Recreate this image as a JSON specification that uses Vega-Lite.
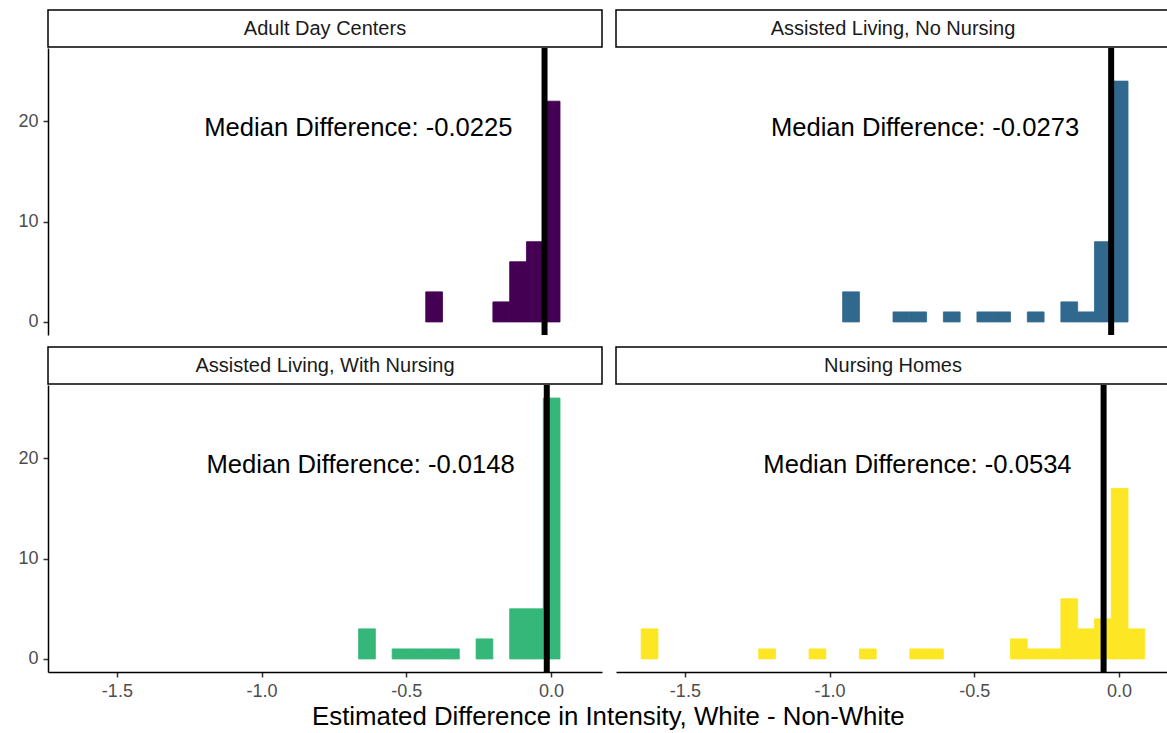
{
  "$schema": "https://vega.github.io/schema/vega-lite/v6.json",
  "padding": {"left": 17, "top": 9, "right": 0, "bottom": 0},
  "spacing": 8,
  "datasets": {
    "bins": [
      {"panel": "Adult Day Centers", "start": -0.433, "end": -0.375, "count": 3},
      {"panel": "Adult Day Centers", "start": -0.201, "end": -0.143, "count": 2},
      {"panel": "Adult Day Centers", "start": -0.143, "end": -0.085, "count": 6},
      {"panel": "Adult Day Centers", "start": -0.085, "end": -0.027, "count": 8},
      {"panel": "Adult Day Centers", "start": -0.027, "end": 0.031, "count": 22},
      {"panel": "Assisted Living, No Nursing", "start": -0.955, "end": -0.897, "count": 3},
      {"panel": "Assisted Living, No Nursing", "start": -0.781, "end": -0.723, "count": 1},
      {"panel": "Assisted Living, No Nursing", "start": -0.723, "end": -0.665, "count": 1},
      {"panel": "Assisted Living, No Nursing", "start": -0.607, "end": -0.549, "count": 1},
      {"panel": "Assisted Living, No Nursing", "start": -0.491, "end": -0.433, "count": 1},
      {"panel": "Assisted Living, No Nursing", "start": -0.433, "end": -0.375, "count": 1},
      {"panel": "Assisted Living, No Nursing", "start": -0.317, "end": -0.259, "count": 1},
      {"panel": "Assisted Living, No Nursing", "start": -0.201, "end": -0.143, "count": 2},
      {"panel": "Assisted Living, No Nursing", "start": -0.143, "end": -0.085, "count": 1},
      {"panel": "Assisted Living, No Nursing", "start": -0.085, "end": -0.027, "count": 8},
      {"panel": "Assisted Living, No Nursing", "start": -0.027, "end": 0.031, "count": 24},
      {"panel": "Assisted Living, With Nursing", "start": -0.665, "end": -0.607, "count": 3},
      {"panel": "Assisted Living, With Nursing", "start": -0.549, "end": -0.491, "count": 1},
      {"panel": "Assisted Living, With Nursing", "start": -0.491, "end": -0.433, "count": 1},
      {"panel": "Assisted Living, With Nursing", "start": -0.433, "end": -0.375, "count": 1},
      {"panel": "Assisted Living, With Nursing", "start": -0.375, "end": -0.317, "count": 1},
      {"panel": "Assisted Living, With Nursing", "start": -0.259, "end": -0.201, "count": 2},
      {"panel": "Assisted Living, With Nursing", "start": -0.143, "end": -0.085, "count": 5},
      {"panel": "Assisted Living, With Nursing", "start": -0.085, "end": -0.027, "count": 5},
      {"panel": "Assisted Living, With Nursing", "start": -0.027, "end": 0.031, "count": 26},
      {"panel": "Nursing Homes", "start": -1.651, "end": -1.593, "count": 3},
      {"panel": "Nursing Homes", "start": -1.245, "end": -1.187, "count": 1},
      {"panel": "Nursing Homes", "start": -1.071, "end": -1.013, "count": 1},
      {"panel": "Nursing Homes", "start": -0.897, "end": -0.839, "count": 1},
      {"panel": "Nursing Homes", "start": -0.723, "end": -0.665, "count": 1},
      {"panel": "Nursing Homes", "start": -0.665, "end": -0.607, "count": 1},
      {"panel": "Nursing Homes", "start": -0.375, "end": -0.317, "count": 2},
      {"panel": "Nursing Homes", "start": -0.317, "end": -0.259, "count": 1},
      {"panel": "Nursing Homes", "start": -0.259, "end": -0.201, "count": 1},
      {"panel": "Nursing Homes", "start": -0.201, "end": -0.143, "count": 6},
      {"panel": "Nursing Homes", "start": -0.143, "end": -0.085, "count": 3},
      {"panel": "Nursing Homes", "start": -0.085, "end": -0.027, "count": 4},
      {"panel": "Nursing Homes", "start": -0.027, "end": 0.031, "count": 17},
      {"panel": "Nursing Homes", "start": 0.031, "end": 0.089, "count": 3}
    ],
    "medians": [
      {"panel": "Adult Day Centers", "median": -0.0225, "label": "Median Difference: -0.0225"},
      {"panel": "Assisted Living, No Nursing", "median": -0.0273, "label": "Median Difference: -0.0273"},
      {"panel": "Assisted Living, With Nursing", "median": -0.0148, "label": "Median Difference: -0.0148"},
      {"panel": "Nursing Homes", "median": -0.0534, "label": "Median Difference: -0.0534"}
    ]
  },
  "vconcat": [
    {
      "spacing": 12,
      "hconcat": [
        {
          "spacing": 1,
          "bounds": "flush",
          "vconcat": [
            {
              "width": 554, "height": 37,
              "view": {"stroke": "black", "strokeWidth": 1.5},
              "data": {"values": [{"label": "Adult Day Centers"}]},
              "mark": {"type": "text", "fontSize": 20, "color": "#1A1A1A", "font": "Liberation Sans"},
              "encoding": {"text": {"field": "label"}}
            },
            {
              "width": 554, "height": 287,
              "layer": [
                {
                  "data": {"name": "bins"},
                  "transform": [{"filter": {"field": "panel", "equal": "Adult Day Centers"}}],
                  "mark": {"type": "bar", "color": "#440154", "stroke": "#440154", "strokeWidth": 0.8},
                  "encoding": {
                    "x": {"field": "start", "type": "quantitative", "scale": {"domain": [-1.738, 0.176], "nice": false, "zero": false}, "axis": null},
                    "x2": {"field": "end"},
                    "y": {"field": "count", "type": "quantitative", "scale": {"domain": [-1.3, 27.3], "nice": false, "zero": false}, "axis": {"values": [0, 10, 20], "format": "d", "title": null, "grid": false}},
                    "y2": {"datum": 0}
                  }
                },
                {
                  "data": {"name": "medians"},
                  "transform": [{"filter": {"field": "panel", "equal": "Adult Day Centers"}}],
                  "mark": {"type": "rule", "color": "black", "strokeWidth": 6},
                  "encoding": {"x": {"field": "median", "type": "quantitative", "axis": null}}
                },
                {
                  "data": {"name": "medians"},
                  "transform": [{"filter": {"field": "panel", "equal": "Adult Day Centers"}}],
                  "mark": {"type": "text", "align": "right", "baseline": "alphabetic", "dx": -32, "dy": 15, "fontSize": 25.6, "color": "black", "font": "Liberation Sans"},
                  "encoding": {
                    "x": {"field": "median", "type": "quantitative", "axis": null},
                    "y": {"datum": 20, "type": "quantitative", "axis": {"values": [0, 10, 20], "format": "d", "title": null, "grid": false}},
                    "text": {"field": "label"}
                  }
                }
              ]
            }
          ]
        },
        {
          "spacing": 1,
          "bounds": "flush",
          "vconcat": [
            {
              "width": 554, "height": 37,
              "view": {"stroke": "black", "strokeWidth": 1.5},
              "data": {"values": [{"label": "Assisted Living, No Nursing"}]},
              "mark": {"type": "text", "fontSize": 20, "color": "#1A1A1A", "font": "Liberation Sans"},
              "encoding": {"text": {"field": "label"}}
            },
            {
              "width": 554, "height": 287,
              "layer": [
                {
                  "data": {"name": "bins"},
                  "transform": [{"filter": {"field": "panel", "equal": "Assisted Living, No Nursing"}}],
                  "mark": {"type": "bar", "color": "#31688E", "stroke": "#31688E", "strokeWidth": 0.8},
                  "encoding": {
                    "x": {"field": "start", "type": "quantitative", "scale": {"domain": [-1.738, 0.176], "nice": false, "zero": false}, "axis": null},
                    "x2": {"field": "end"},
                    "y": {"field": "count", "type": "quantitative", "scale": {"domain": [-1.3, 27.3], "nice": false, "zero": false}, "axis": null},
                    "y2": {"datum": 0}
                  }
                },
                {
                  "data": {"name": "medians"},
                  "transform": [{"filter": {"field": "panel", "equal": "Assisted Living, No Nursing"}}],
                  "mark": {"type": "rule", "color": "black", "strokeWidth": 6},
                  "encoding": {"x": {"field": "median", "type": "quantitative", "axis": null}}
                },
                {
                  "data": {"name": "medians"},
                  "transform": [{"filter": {"field": "panel", "equal": "Assisted Living, No Nursing"}}],
                  "mark": {"type": "text", "align": "right", "baseline": "alphabetic", "dx": -32, "dy": 15, "fontSize": 25.6, "color": "black", "font": "Liberation Sans"},
                  "encoding": {
                    "x": {"field": "median", "type": "quantitative", "axis": null},
                    "y": {"datum": 20, "type": "quantitative", "axis": null},
                    "text": {"field": "label"}
                  }
                }
              ]
            }
          ]
        }
      ]
    },
    {
      "spacing": 12,
      "hconcat": [
        {
          "spacing": 1,
          "bounds": "flush",
          "vconcat": [
            {
              "width": 554, "height": 37,
              "view": {"stroke": "black", "strokeWidth": 1.5},
              "data": {"values": [{"label": "Assisted Living, With Nursing"}]},
              "mark": {"type": "text", "fontSize": 20, "color": "#1A1A1A", "font": "Liberation Sans"},
              "encoding": {"text": {"field": "label"}}
            },
            {
              "width": 554, "height": 287,
              "layer": [
                {
                  "data": {"name": "bins"},
                  "transform": [{"filter": {"field": "panel", "equal": "Assisted Living, With Nursing"}}],
                  "mark": {"type": "bar", "color": "#35B779", "stroke": "#35B779", "strokeWidth": 0.8},
                  "encoding": {
                    "x": {"field": "start", "type": "quantitative", "scale": {"domain": [-1.738, 0.176], "nice": false, "zero": false}, "axis": {"values": [-1.5, -1, -0.5, 0], "labelExpr": "replace(format(datum.value, '.1f'), '\u2212', '-')", "title": null, "grid": false, "labelFlush": false}},
                    "x2": {"field": "end"},
                    "y": {"field": "count", "type": "quantitative", "scale": {"domain": [-1.3, 27.3], "nice": false, "zero": false}, "axis": {"values": [0, 10, 20], "format": "d", "title": null, "grid": false}},
                    "y2": {"datum": 0}
                  }
                },
                {
                  "data": {"name": "medians"},
                  "transform": [{"filter": {"field": "panel", "equal": "Assisted Living, With Nursing"}}],
                  "mark": {"type": "rule", "color": "black", "strokeWidth": 6},
                  "encoding": {"x": {"field": "median", "type": "quantitative", "axis": {"values": [-1.5, -1, -0.5, 0], "labelExpr": "replace(format(datum.value, '.1f'), '\u2212', '-')", "title": null, "grid": false, "labelFlush": false}}}
                },
                {
                  "data": {"name": "medians"},
                  "transform": [{"filter": {"field": "panel", "equal": "Assisted Living, With Nursing"}}],
                  "mark": {"type": "text", "align": "right", "baseline": "alphabetic", "dx": -32, "dy": 15, "fontSize": 25.6, "color": "black", "font": "Liberation Sans"},
                  "encoding": {
                    "x": {"field": "median", "type": "quantitative", "axis": {"values": [-1.5, -1, -0.5, 0], "labelExpr": "replace(format(datum.value, '.1f'), '\u2212', '-')", "title": null, "grid": false, "labelFlush": false}},
                    "y": {"datum": 20, "type": "quantitative", "axis": {"values": [0, 10, 20], "format": "d", "title": null, "grid": false}},
                    "text": {"field": "label"}
                  }
                }
              ]
            }
          ]
        },
        {
          "spacing": 1,
          "bounds": "flush",
          "vconcat": [
            {
              "width": 554, "height": 37,
              "view": {"stroke": "black", "strokeWidth": 1.5},
              "data": {"values": [{"label": "Nursing Homes"}]},
              "mark": {"type": "text", "fontSize": 20, "color": "#1A1A1A", "font": "Liberation Sans"},
              "encoding": {"text": {"field": "label"}}
            },
            {
              "width": 554, "height": 287,
              "layer": [
                {
                  "data": {"name": "bins"},
                  "transform": [{"filter": {"field": "panel", "equal": "Nursing Homes"}}],
                  "mark": {"type": "bar", "color": "#FDE725", "stroke": "#FDE725", "strokeWidth": 0.8},
                  "encoding": {
                    "x": {"field": "start", "type": "quantitative", "scale": {"domain": [-1.738, 0.176], "nice": false, "zero": false}, "axis": {"values": [-1.5, -1, -0.5, 0], "labelExpr": "replace(format(datum.value, '.1f'), '\u2212', '-')", "title": null, "grid": false, "labelFlush": false}},
                    "x2": {"field": "end"},
                    "y": {"field": "count", "type": "quantitative", "scale": {"domain": [-1.3, 27.3], "nice": false, "zero": false}, "axis": null},
                    "y2": {"datum": 0}
                  }
                },
                {
                  "data": {"name": "medians"},
                  "transform": [{"filter": {"field": "panel", "equal": "Nursing Homes"}}],
                  "mark": {"type": "rule", "color": "black", "strokeWidth": 6},
                  "encoding": {"x": {"field": "median", "type": "quantitative", "axis": {"values": [-1.5, -1, -0.5, 0], "labelExpr": "replace(format(datum.value, '.1f'), '\u2212', '-')", "title": null, "grid": false, "labelFlush": false}}}
                },
                {
                  "data": {"name": "medians"},
                  "transform": [{"filter": {"field": "panel", "equal": "Nursing Homes"}}],
                  "mark": {"type": "text", "align": "right", "baseline": "alphabetic", "dx": -32, "dy": 15, "fontSize": 25.6, "color": "black", "font": "Liberation Sans"},
                  "encoding": {
                    "x": {"field": "median", "type": "quantitative", "axis": {"values": [-1.5, -1, -0.5, 0], "labelExpr": "replace(format(datum.value, '.1f'), '\u2212', '-')", "title": null, "grid": false, "labelFlush": false}},
                    "y": {"datum": 20, "type": "quantitative", "axis": null},
                    "text": {"field": "label"}
                  }
                }
              ]
            }
          ]
        }
      ]
    }
  ],
  "title": {
    "text": "Estimated Difference in Intensity, White - Non-White",
    "orient": "bottom",
    "anchor": "middle",
    "frame": "bounds",
    "dx": 14,
    "fontSize": 25.8,
    "fontWeight": "normal",
    "color": "black",
    "font": "Liberation Sans",
    "offset": 5
  },
  "config": {
    "view": {"stroke": null},
    "font": "Liberation Sans",
    "axis": {
      "domainColor": "black",
      "domainWidth": 1.5,
      "tickColor": "#333333",
      "tickWidth": 1.5,
      "tickSize": 5,
      "labelPadding": 5,
      "labelColor": "#4D4D4D",
      "labelFont": "Liberation Sans",
      "labelFontSize": 18,
      "grid": false
    }
  }
}
